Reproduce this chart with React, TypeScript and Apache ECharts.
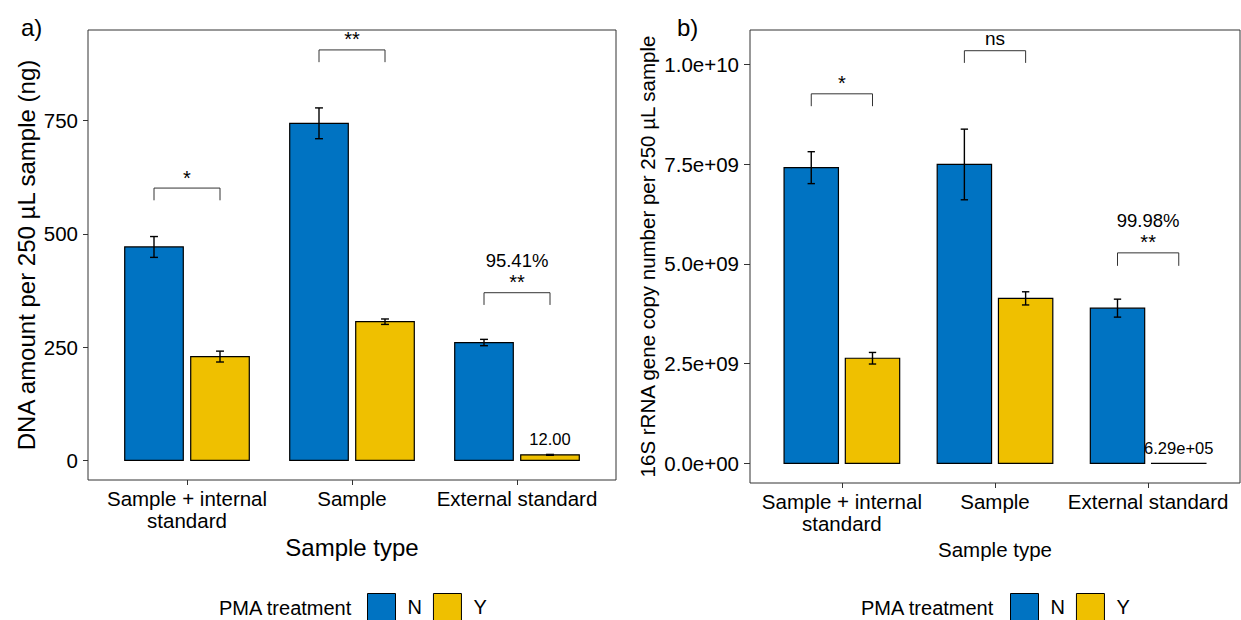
import React, { useEffect, useRef } from "react";
import * as echarts from "echarts";

// ---------- data ----------
const categories = ["Sample + internal\nstandard", "Sample", "External standard"];
const groupNames = ["N", "Y"];

// panel a) DNA amount per 250 µL sample (ng)
const dnaN = [471, 744, 260];
const dnaNErr = [23, 34, 7];
const dnaY = [229, 306, 12];
const dnaYErr = [12, 6, 1];
const dnaBracket = [601, 906, 370];
const dnaTip = [574, 879, 343];
const dnaSig = ["*", "**", "**"];
const dnaPct = ["", "", "95.41%"];
const dnaValueLabel = ["", "", "12.00"];
const dnaTicks = [0, 250, 500, 750];

// panel b) 16S rRNA gene copy number per 250 µL sample
const copyN = [7.41e9, 7.49e9, 3.89e9];
const copyNErr = [0.4e9, 0.885e9, 0.225e9];
const copyY = [2.635e9, 4.135e9, 6.29e5];
const copyYErr = [0.145e9, 0.165e9, 0];
const copyBracket = [9.26e9, 1.034e10, 5.275e9];
const copyTip = [8.95e9, 1.0035e10, 4.95e9];
const copySig = ["*", "ns", "**"];
const copyPct = ["", "", "99.98%"];
const copyValueLabel = ["", "", "6.29e+05"];
const copyTicks = [0, 2.5e9, 5e9, 7.5e9, 1e10];

const COLORS = { N: "#0073C2", Y: "#EFC000" };
const FONT = "'Liberation Sans', Arial, Helvetica, sans-serif";

const BAR_W = 0.355;
const DODGE = 0.2;
const CAP = 0.024;

function sci(v: number): string {
  if (v === 0) return "0.0e+00";
  const [m, e] = v.toExponential(1).split("e");
  const sign = e[0];
  const digits = e.slice(1).padStart(2, "0");
  return `${m}e${sign}${digits}`;
}

function barRender(offset: number, color: string) {
  return (params: any, api: any) => {
    const x = api.value(0) + offset;
    const v = api.value(1);
    const e = api.value(2);
    const tl = api.coord([x - BAR_W / 2, v]);
    const br = api.coord([x + BAR_W / 2, 0]);
    const children: any[] = [
      {
        type: "rect",
        shape: { x: tl[0], y: tl[1], width: br[0] - tl[0], height: Math.max(br[1] - tl[1], 0.01) },
        style: { fill: color, stroke: "#000", lineWidth: 1.2 },
      },
    ];
    if (e > 0) {
      const t = api.coord([x, v + e]);
      const b = api.coord([x, v - e]);
      const cl = api.coord([x - CAP, v]);
      const cr = api.coord([x + CAP, v]);
      const ls = { stroke: "#000", lineWidth: 1.4 };
      children.push({ type: "line", shape: { x1: t[0], y1: t[1], x2: b[0], y2: b[1] }, style: ls });
      children.push({ type: "line", shape: { x1: cl[0], y1: t[1], x2: cr[0], y2: t[1] }, style: ls });
      children.push({ type: "line", shape: { x1: cl[0], y1: b[1], x2: cr[0], y2: b[1] }, style: ls });
    }
    return { type: "group", children };
  };
}

function annotRender(sig: string[], pct: string[], valLabel: string[], yTop: number[]) {
  return (params: any, api: any) => {
    const i = params.dataIndex;
    const c = api.value(0);
    const yb = api.value(1);
    const yt = api.value(2);
    const l = api.coord([c - DODGE, yb]);
    const r = api.coord([c + DODGE, yb]);
    const lt = api.coord([c - DODGE, yt]);
    const rt = api.coord([c + DODGE, yt]);
    const ls = { stroke: "#333", lineWidth: 1 };
    const children: any[] = [
      { type: "polyline", shape: { points: [[lt[0], lt[1]], [l[0], l[1]], [r[0], r[1]], [rt[0], rt[1]]] }, style: { ...ls, fill: null } },
      {
        type: "text",
        x: (l[0] + r[0]) / 2,
        y: l[1] - (sig[i] === "ns" ? 12 : 10.5),
        style: { text: sig[i], fontSize: sig[i] === "ns" ? 19 : 20, fontFamily: FONT, fill: "#000", align: "center", verticalAlign: "middle" },
      },
    ];
    if (pct[i]) {
      children.push({
        type: "text",
        x: (l[0] + r[0]) / 2,
        y: l[1] - 32.5,
        style: { text: pct[i], fontSize: 18.5, fontFamily: FONT, fill: "#000", align: "center", verticalAlign: "middle" },
      });
    }
    if (valLabel[i]) {
      const p = api.coord([c + DODGE, yTop[i]]);
      children.push({
        type: "text",
        x: p[0],
        y: p[1] - 15,
        style: { text: valLabel[i], fontSize: 16.5, fontFamily: FONT, fill: "#000", align: "center", verticalAlign: "middle" },
      });
    }
    return { type: "group", children };
  };
}

function xAxisCfg(gridIndex: number, nameSize: number) {
  return {
    type: "value",
    gridIndex,
    position: "bottom",
    min: 0.4,
    max: 3.6,
    splitLine: { show: false },
    axisLine: { show: false, onZero: false },
    axisTick: { show: true, length: 5, customValues: [1, 2, 3], lineStyle: { color: "#333", width: 1 } },
    axisLabel: {
      customValues: [1, 2, 3],
      formatter: (v: number) => categories[Math.round(v) - 1] ?? "",
      fontSize: 20.5,
      lineHeight: 22,
      color: "#000",
      margin: 7,
      fontFamily: FONT,
    },
    name: "Sample type",
    nameLocation: "middle",
    nameGap: 55,
    nameTextStyle: { fontSize: nameSize, color: "#000", fontFamily: FONT },
  };
}

export default function App() {
  const ref = useRef<HTMLDivElement>(null);
  useEffect(() => {
    const chart = echarts.init(ref.current!, null, { renderer: "svg" });
    const dnaTop = dnaY.map((v, i) => v + dnaYErr[i]);
    const copyTop = copyY.map((v, i) => v + copyYErr[i]);
    const option: any = {
      animation: false,
      backgroundColor: "#fff",
      textStyle: { fontFamily: FONT },
      grid: [
        { left: 88, top: 30, width: 528, height: 450, show: true, borderColor: "#333", borderWidth: 1, backgroundColor: "transparent" },
        { left: 750, top: 30, width: 490, height: 453, show: true, borderColor: "#333", borderWidth: 1, backgroundColor: "transparent" },
      ],
      xAxis: [xAxisCfg(0, 24), xAxisCfg(1, 20.5)],
      yAxis: [
        {
          type: "value",
          gridIndex: 0,
          position: "left",
          min: -43.5,
          max: 950,
          splitLine: { show: false },
          axisLine: { show: false, onZero: false },
          axisTick: { show: true, length: 5, customValues: dnaTicks, lineStyle: { color: "#333" } },
          axisLabel: { customValues: dnaTicks, fontSize: 20.5, color: "#000", margin: 10, fontFamily: FONT },
          name: "DNA amount per 250 µL sample (ng)",
          nameLocation: "middle",
          nameGap: 50,
          nameTextStyle: { fontSize: 24, color: "#000", fontFamily: FONT },
        },
        {
          type: "value",
          gridIndex: 1,
          position: "left",
          min: -4.91e8,
          max: 1.0859e10,
          splitLine: { show: false },
          axisLine: { show: false, onZero: false },
          axisTick: { show: true, length: 6, customValues: copyTicks, lineStyle: { color: "#333" } },
          axisLabel: { customValues: copyTicks, formatter: (v: number) => sci(v), fontSize: 20.5, color: "#000", margin: 11, fontFamily: FONT },
          name: "16S rRNA gene copy number per 250 µL sample",
          nameLocation: "middle",
          nameGap: 92,
          nameTextStyle: { fontSize: 20.5, color: "#000", fontFamily: FONT },
        },
      ],
      legend: [
        {
          left: 367,
          top: 593,
          padding: 0,
          itemWidth: 28,
          itemHeight: 27,
          itemGap: 11,
          icon: "rect",
          selectedMode: false,
          data: groupNames,
          itemStyle: { borderColor: "#000", borderWidth: 1 },
          textStyle: { fontSize: 20, color: "#000", fontFamily: FONT, padding: [0, 0, 0, 7] },
        },
        {
          left: 1010,
          top: 593,
          padding: 0,
          itemWidth: 28,
          itemHeight: 27,
          itemGap: 11,
          icon: "rect",
          selectedMode: false,
          data: groupNames,
          itemStyle: { borderColor: "#000", borderWidth: 1 },
          textStyle: { fontSize: 20, color: "#000", fontFamily: FONT, padding: [0, 0, 0, 7] },
        },
      ],
      graphic: [
        { type: "text", x: 21, y: 27, style: { text: "a)", fontSize: 24, fontFamily: FONT, fill: "#000", verticalAlign: "middle" } },
        { type: "text", x: 677, y: 27, style: { text: "b)", fontSize: 24, fontFamily: FONT, fill: "#000", verticalAlign: "middle" } },
        { type: "text", x: 219, y: 608, style: { text: "PMA treatment", fontSize: 20, fontFamily: FONT, fill: "#000", verticalAlign: "middle" } },
        { type: "text", x: 861, y: 608, style: { text: "PMA treatment", fontSize: 20, fontFamily: FONT, fill: "#000", verticalAlign: "middle" } },
      ],
      series: [
        {
          name: "N",
          type: "custom",
          xAxisIndex: 0,
          yAxisIndex: 0,
          itemStyle: { color: COLORS.N, borderColor: "#000", borderWidth: 1 },
          renderItem: barRender(-DODGE, COLORS.N),
          encode: { x: 0, y: 1 },
          data: dnaN.map((v, i) => [i + 1, v, dnaNErr[i]]),
        },
        {
          name: "Y",
          type: "custom",
          xAxisIndex: 0,
          yAxisIndex: 0,
          itemStyle: { color: COLORS.Y, borderColor: "#000", borderWidth: 1 },
          renderItem: barRender(DODGE, COLORS.Y),
          encode: { x: 0, y: 1 },
          data: dnaY.map((v, i) => [i + 1, v, dnaYErr[i]]),
        },
        {
          name: "annotA",
          type: "custom",
          xAxisIndex: 0,
          yAxisIndex: 0,
          renderItem: annotRender(dnaSig, dnaPct, dnaValueLabel, dnaTop),
          encode: { x: 0, y: 1 },
          data: categories.map((_, i) => [i + 1, dnaBracket[i], dnaTip[i]]),
        },
        {
          name: "N",
          type: "custom",
          xAxisIndex: 1,
          yAxisIndex: 1,
          itemStyle: { color: COLORS.N, borderColor: "#000", borderWidth: 1 },
          renderItem: barRender(-DODGE, COLORS.N),
          encode: { x: 0, y: 1 },
          data: copyN.map((v, i) => [i + 1, v, copyNErr[i]]),
        },
        {
          name: "Y",
          type: "custom",
          xAxisIndex: 1,
          yAxisIndex: 1,
          itemStyle: { color: COLORS.Y, borderColor: "#000", borderWidth: 1 },
          renderItem: barRender(DODGE, COLORS.Y),
          encode: { x: 0, y: 1 },
          data: copyY.map((v, i) => [i + 1, v, copyYErr[i]]),
        },
        {
          name: "annotB",
          type: "custom",
          xAxisIndex: 1,
          yAxisIndex: 1,
          renderItem: annotRender(copySig, copyPct, copyValueLabel, copyTop),
          encode: { x: 0, y: 1 },
          data: categories.map((_, i) => [i + 1, copyBracket[i], copyTip[i]]),
        },
      ],
    };
    chart.setOption(option);
    return () => chart.dispose();
  }, []);
  return (
    <div
      ref={ref}
      style={{ position: "fixed", left: 0, top: 0, width: 1241, height: 620, background: "#fff" }}
    />
  );
}
